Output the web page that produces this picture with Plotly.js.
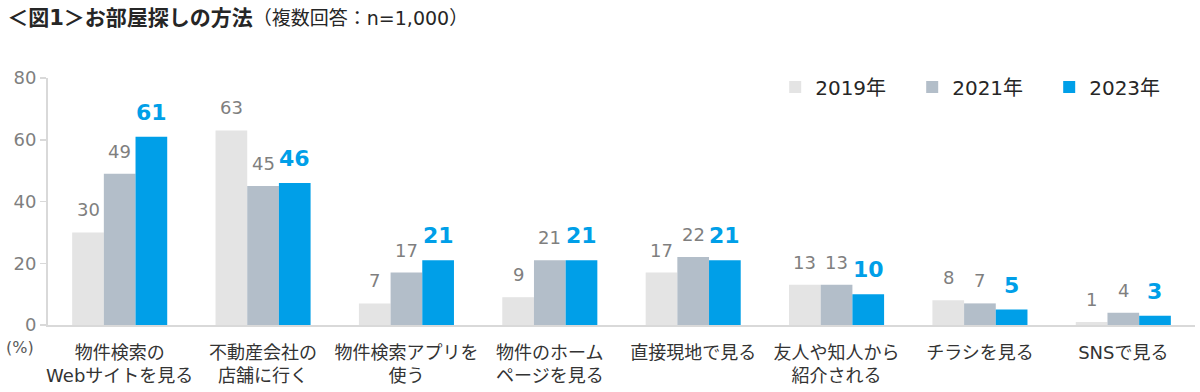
<!DOCTYPE html>
<html>
<head>
<meta charset="utf-8">
<script src="https://cdn.plot.ly/plotly-3.0.1.min.js"></script>
<style>html,body{margin:0;padding:0;background:#fff;}#chart{width:1200px;height:392px;}</style>
</head>
<body>
<div id="chart"></div>
<script>
const categories = [
  "物件検索の<br>Webサイトを見る",
  "不動産会社の<br>店舗に行く",
  "物件検索アプリを<br>使う",
  "物件のホーム<br>ページを見る",
  "直接現地で見る",
  "友人や知人から<br>紹介される",
  "チラシを見る",
  "SNSで見る"
];
const seriesNames = ["2019年", "2021年", "2023年"];
const values2019 = [30, 63, 7, 9, 17, 13, 8, 1];
const values2021 = [49, 45, 17, 21, 22, 13, 7, 4];
const values2023 = [61, 46, 21, 21, 21, 10, 5, 3];
const yTicks = [0, 20, 40, 60, 80];

const colors = ["#e4e4e4", "#b3bec9", "#009fe8"];
const labelColors = ["#7f7f7f", "#7f7f7f", "#009fe8"];
const FONT = "DejaVu Sans, 'Noto Sans CJK JP', sans-serif";

const allValues = [values2019, values2021, values2023];

const margin = {l: 48, r: 5, t: 78, b: 67};
const plotW = 1200 - margin.l - margin.r;
const bargap = 0.337;
const barPx = plotW / categories.length * (1 - bargap) / 3;

const traces = allValues.map((vals, s) => ({
  type: "bar",
  name: seriesNames[s],
  x: categories,
  y: vals,
  marker: {color: colors[s], line: {width: 0}},
  hoverinfo: "skip"
}));

const annotations = [];
allValues.forEach((vals, s) => {
  vals.forEach((v, i) => {
    annotations.push({
      x: categories[i], y: v, xref: "x", yref: "y",
      xshift: (s - 1) * barPx, yshift: 10,
      yanchor: "bottom", showarrow: false,
      text: s === 2 ? "<b>" + v + "</b>" : String(v),
      font: {family: FONT, size: s === 2 ? 22 : 18, color: labelColors[s]}
    });
  });
});
annotations.push({
  xref: "paper", yref: "paper", x: -0.024, y: -0.09,
  xanchor: "center", yanchor: "middle", showarrow: false,
  text: "(%)", font: {family: FONT, size: 16, color: "#595959"}
});

const layout = {
  width: 1200, height: 392,
  margin: margin,
  paper_bgcolor: "#fff", plot_bgcolor: "#fff",
  font: {family: FONT, color: "#262626"},
  title: {
    text: "<b>＜図1＞お部屋探しの方法</b><span style='font-size:19px'>（複数回答：n=1,000）</span>",
    font: {family: FONT, size: 21, color: "#262626"},
    x: 0.006, xanchor: "left", xref: "container",
    y: 0.955, yanchor: "middle", yref: "container"
  },
  barmode: "group",
  bargap: bargap,
  bargroupgap: 0,
  showlegend: true,
  legend: {
    orientation: "h",
    x: 0.634, xanchor: "left",
    y: 0.964, yanchor: "middle",
    entrywidth: 92, entrywidthmode: "pixels",
    font: {family: FONT, size: 20, color: "#262626"},
    bgcolor: "rgba(0,0,0,0)", borderwidth: 0
  },
  xaxis: {
    type: "category",
    showline: true, linecolor: "#d9d9d9", linewidth: 2,
    ticks: "", showgrid: false, zeroline: false,
    tickangle: 0,
    ticklabelstandoff: 10,
    tickfont: {family: FONT, size: 18, color: "#333333"},
    automargin: false
  },
  yaxis: {
    range: [0, 80],
    tickvals: yTicks,
    showline: true, linecolor: "#d9d9d9", linewidth: 2,
    ticks: "outside", ticklen: 6, tickcolor: "#d9d9d9", tickwidth: 1.5,
    showgrid: false, zeroline: false,
    tickfont: {family: FONT, size: 18, color: "#7f7f7f"},
    automargin: false
  },
  annotations: annotations
};

Plotly.newPlot("chart", traces, layout, {displayModeBar: false, staticPlot: true});
</script>
</body>
</html>
